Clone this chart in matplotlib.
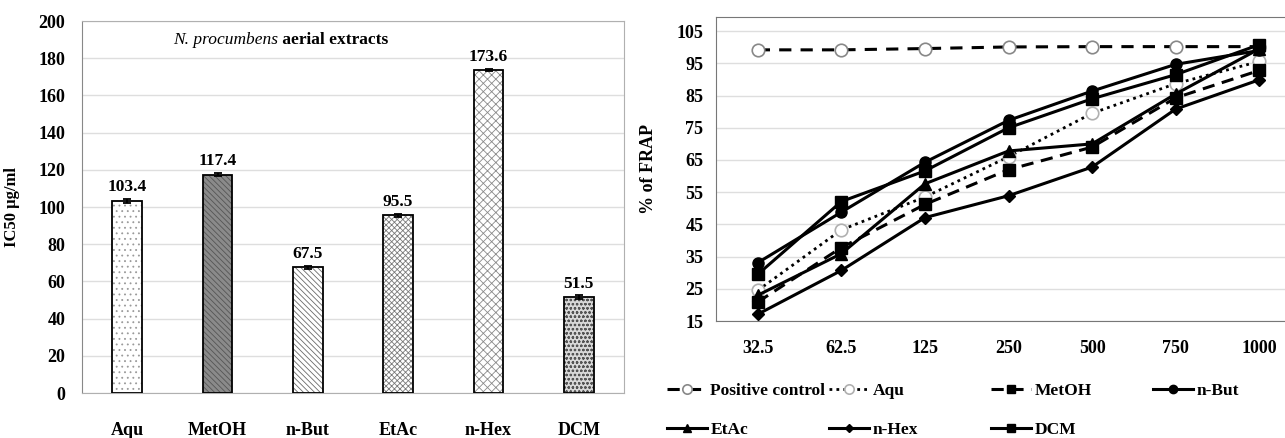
import numpy as np
import matplotlib
matplotlib.use('Agg')
import matplotlib.pyplot as plt

plt.rcParams['font.family'] = ['Liberation Serif', 'DejaVu Serif']
plt.rcParams['font.weight'] = 'bold'
plt.rcParams['axes.labelweight'] = 'bold'
plt.rcParams['hatch.linewidth'] = 0.6

# IC50 of the aerial extracts
extracts = ['Aqu', 'MetOH', 'n-But', 'EtAc', 'n-Hex', 'DCM']
ic50 = [103.4, 117.4, 67.5, 95.5, 173.6, 51.5]
ic50_err = [1.0, 0.8, 0.9, 0.9, 0.6, 1.1]

# FRAP (%) against concentration
conc = ['32.5', '62.5', '125', '250', '500', '750', '1000']
pos_control = [99.2, 99.2, 99.6, 100.1, 100.2, 100.2, 100.2]
aqu = [24.5, 43.3, 53.5, 66.0, 79.5, 88.7, 95.6]
metoh = [20.9, 37.8, 51.2, 62.0, 69.0, 84.3, 92.8]
nbut = [33.1, 48.8, 64.3, 77.3, 86.4, 94.7, 99.0]
etac = [23.0, 35.9, 57.6, 67.8, 70.0, 85.5, 99.5]
nhex = [17.1, 30.7, 47.1, 53.9, 62.8, 80.8, 89.9]
dcm = [29.5, 52.1, 61.6, 75.0, 84.0, 91.5, 100.8]

W, H = 1285, 438
fig = plt.figure(figsize=(W / 100, H / 100), dpi=100)

# ---------------- left: bar chart ----------------
ax1 = fig.add_axes([82 / W, 1 - 393 / H, 542 / W, 372 / H])
x = np.arange(len(extracts))
faces = ['white', '#8a8a8a', 'white', 'white', 'white', '#d8d8d8']
hatches = ['...', '\\\\\\\\\\\\', '\\\\\\\\\\\\', 'xxxxxx', 'xxxx', 'oooo']
hcols = ['#9a9a9a', '#555555', '#6a6a6a', '#7a7a7a', '#8a8a8a', '#555555']
for i in range(len(extracts)):
    ax1.bar(x[i], ic50[i], width=0.33, color=faces[i], hatch=hatches[i],
            edgecolor=hcols[i], linewidth=0, zorder=2)
ax1.bar(x, ic50, width=0.33, fill=False, edgecolor='black', linewidth=1.3, zorder=3)
ax1.errorbar(x, ic50, yerr=ic50_err, fmt='none', ecolor='black', capsize=3,
             elinewidth=1.3, capthick=1.3, zorder=4)
for xi, v in zip(x, ic50):
    ax1.text(xi, v + 3, f'{v:.1f}', ha='center', va='bottom', fontsize=12.5)

ax1.set_xlim(-0.5, 5.5)
ax1.set_ylim(0, 200)
ax1.set_yticks(range(0, 201, 20))
ax1.set_xticks(x, extracts)
ax1.tick_params(axis='x', length=0, pad=21, labelsize=13)
ax1.tick_params(axis='y', length=0, pad=12, labelsize=13)
ax1.yaxis.grid(True, color='#dedede', lw=1)
ax1.set_axisbelow(True)
for s in ['top', 'right', 'bottom']:
    ax1.spines[s].set_color('#b0b0b0')
ax1.spines['left'].set_color('#888888')
ax1.set_ylabel('IC50 µg/ml', fontsize=12, labelpad=13)

t1 = ax1.text(0.168, 190, 'N. procumbens', style='italic', fontweight='normal',
              fontsize=12.5, ha='left', va='center',
              transform=ax1.get_yaxis_transform())
ax1.annotate(' aerial extracts', xy=(1, 0), xycoords=t1, ha='left', va='bottom',
             fontsize=12.5)

# ---------------- right: line chart ----------------
ax2 = fig.add_axes([716 / W, 1 - 321 / H, 585 / W, 304 / H])
xc = np.arange(len(conc))
h_pc, = ax2.plot(xc, pos_control, color='black', lw=2.2, ls=(0, (4, 3)),
                 marker='o', ms=9, mfc='white', mec='#888888', mew=1.2)
h_aqu, = ax2.plot(xc, aqu, color='black', lw=2, ls=(0, (1, 1.5)),
                  marker='o', ms=9, mfc='white', mec='#b0b0b0', mew=1.2)
h_met, = ax2.plot(xc, metoh, color='black', lw=2.2, ls=(0, (4, 2.5)),
                  marker='s', ms=8)
h_but, = ax2.plot(xc, nbut, color='black', lw=2.2, marker='o', ms=8)
h_eta, = ax2.plot(xc, etac, color='black', lw=2.2, marker='^', ms=8)
h_hex, = ax2.plot(xc, nhex, color='black', lw=2.2, marker='D', ms=6)
h_dcm, = ax2.plot(xc, dcm, color='black', lw=2.2, marker='s', ms=8)

ax2.set_xlim(-0.5, 6.5)
ax2.set_ylim(15, 109.4)
ax2.set_yticks(range(15, 106, 10))
ax2.set_xticks(xc, conc)
ax2.tick_params(axis='x', length=0, pad=14, labelsize=13)
ax2.tick_params(axis='y', length=0, pad=9, labelsize=13)
ax2.yaxis.grid(True, color='#dedede', lw=1)
ax2.set_axisbelow(True)
for s in ['top', 'left', 'bottom']:
    ax2.spines[s].set_color('#777777')
ax2.spines['right'].set_visible(False)
ax2.set_ylabel('% of FRAP', fontsize=13, labelpad=14)

# legend laid out like the spreadsheet one: 4 columns, 2 rows
entries = [(h_pc, 'Positive control', 0, 0), (h_aqu, 'Aqu', 0, 1),
           (h_met, 'MetOH', 0, 2), (h_but, 'n-But', 0, 3),
           (h_eta, 'EtAc', 1, 0), (h_hex, 'n-Hex', 1, 1), (h_dcm, 'DCM', 1, 2)]
col_x = [667, 829, 991, 1153]
row_y = [391, 430]
for h, lab, r, c in entries:
    fig.legend(handles=[h], labels=[lab], loc='center left',
               bbox_to_anchor=(col_x[c] / W, 1 - row_y[r] / H),
               frameon=False, borderpad=0, borderaxespad=0, markerscale=0.75,
               handlelength=2.3, handletextpad=0.2, fontsize=12.5)

fig.savefig('out.png', dpi=100)
